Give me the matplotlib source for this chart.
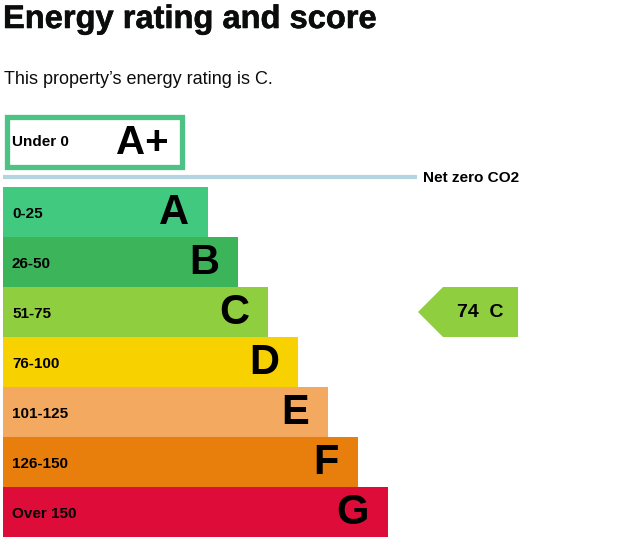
#!/usr/bin/env python3
"""
Energy performance certificate style rating chart.
"""
import matplotlib
matplotlib.use("Agg")
import matplotlib.pyplot as plt
import matplotlib.patheffects as pe
from matplotlib.patches import Rectangle, Polygon

bands = ['A', 'B', 'C', 'D', 'E', 'F', 'G']
ranges = ['0-25', '26-50', '51-75', '76-100', '101-125', '126-150', 'Over 150']
colors = ['#41c97f', '#3cb45a', '#8fce3f', '#f8d200', '#f4a960',
          '#e87e0c', '#de0c39']

top_band = 'A+'
top_range = 'Under 0'
score = 74
rating = 'C'

plt.rcParams['font.family'] = ['Liberation Sans', 'DejaVu Sans']

fig = plt.figure(figsize=(6.3, 5.43), dpi=100)
ax = fig.add_axes([0, 0, 1, 1])
ax.set_xlim(0, 630)
ax.set_ylim(543, 0)
ax.axis('off')

# rating bars
bar_h = 50
y0 = 187
ys = [y0 + bar_h * i + bar_h / 2 for i in range(len(bands))]
widths = [205 + 30 * i for i in range(len(bands))]
ax.barh(ys, widths, height=bar_h, left=3, color=colors, linewidth=0)

for y, w, band, rng in zip(ys, widths, bands, ranges):
    ax.text(12, y + 1.5, rng, fontsize=11, fontweight='bold', va='center',
            ha='left')
    ax.text(3 + w - 19, y + 1.5, band, fontsize=30, fontweight='bold',
            va='center', ha='right')

# A+ box
ax.add_patch(Rectangle((6.5, 116.5), 175, 50, fill=False,
                       edgecolor='#4cc385', linewidth=3.8))
ax.text(12, 142, top_range, fontsize=11, fontweight='bold', va='center')
ax.text(169, 143, top_band, fontsize=29, fontweight='bold', va='center',
        ha='right')

# net zero line
ax.plot([3, 417], [177, 177], color='#b3d5e0', linewidth=3,
        solid_capstyle='butt')
ax.text(423, 177.5, 'Net zero CO2', fontsize=11.1, fontweight='bold',
        va='center')

# current rating arrow
cy = ys[bands.index(rating)]
ax.add_patch(Polygon([(418, cy), (443, cy - 25), (518, cy - 25),
                      (518, cy + 25), (443, cy + 25)],
                     closed=True, color=colors[bands.index(rating)],
                     linewidth=0))
ax.text(480, cy + 0.5, f'{score}  {rating}', fontsize=14, fontweight='bold',
        va='center', ha='center')

# headings
ax.text(3, 19.5, 'Energy rating and score', fontsize=23.5, fontweight='bold',
        va='center', ha='left',
        path_effects=[pe.withStroke(linewidth=0.4, foreground='#0b0c0c')],
        color='#0b0c0c')
ax.text(4, 80, "This property\u2019s energy rating is C.", fontsize=13,
        va='center', ha='left', color='#0b0c0c')

fig.savefig('out.png', dpi=100)
